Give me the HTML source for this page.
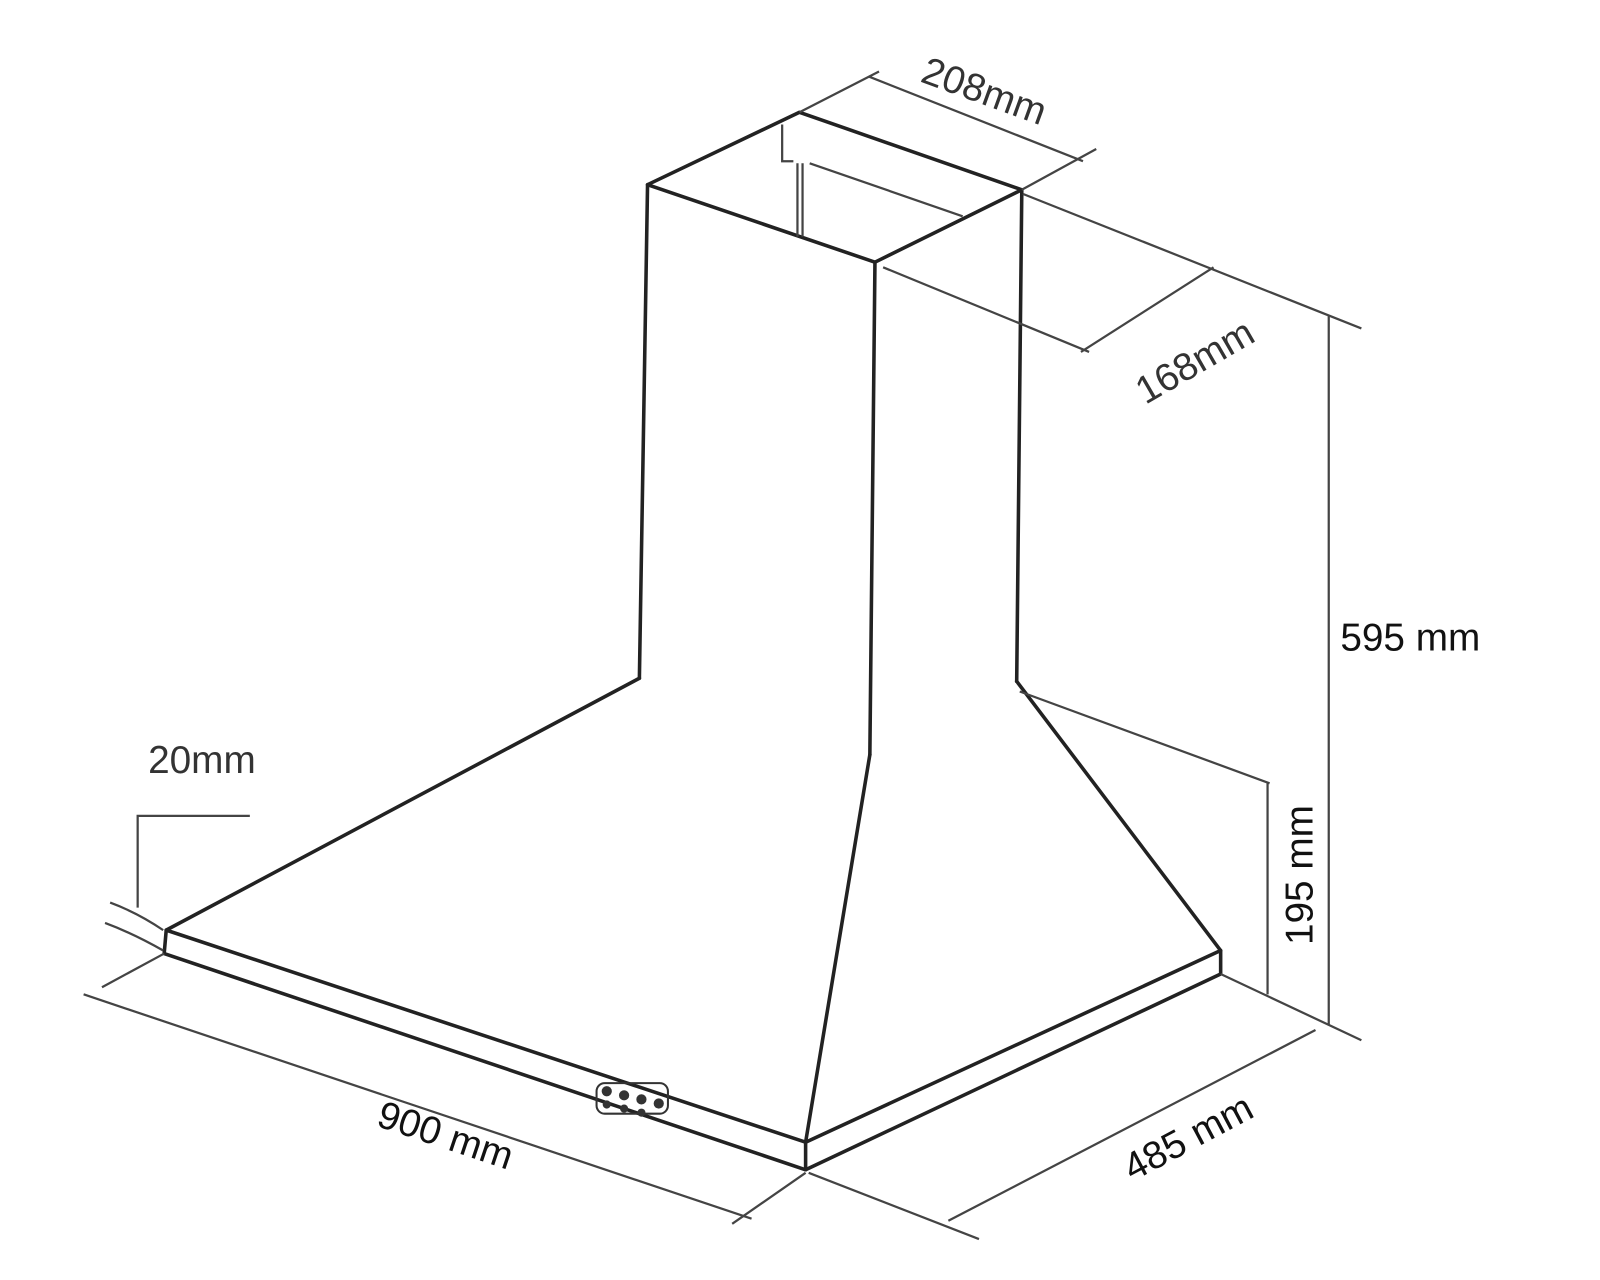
<!DOCTYPE html>
<html><head><style>html,body{margin:0;padding:0;background:#fff}svg{display:block}</style></head>
<body>
<svg width="1600" height="1280" viewBox="0 0 1569 1255" xmlns="http://www.w3.org/2000/svg">
<g fill="none" stroke="#222" stroke-width="3.5" stroke-linejoin="round" stroke-linecap="round">
<polygon points="635,181 784,110 1002,186 858,257"/>
<line x1="635" y1="181" x2="627" y2="665"/>
<line x1="858" y1="257" x2="853" y2="740"/>
<line x1="1002" y1="186" x2="997" y2="668"/>
<line x1="627" y1="665" x2="163" y2="912"/>
<line x1="853" y1="740" x2="790" y2="1120"/>
<line x1="997" y1="668" x2="1197" y2="932"/>
<polyline points="163,912 790,1120 1197,932 1197,955 790,1147 161,935 163,912"/>
<line x1="790" y1="1120" x2="790" y2="1147"/>
</g>
<g fill="none" stroke="#444" stroke-width="2.2">
<polyline points="767,122 767,158 778,158"/>
<line x1="794" y1="160" x2="944" y2="212"/>
<line x1="782" y1="160" x2="782" y2="232"/>
<line x1="787" y1="160" x2="787" y2="232"/>
<line x1="866" y1="262" x2="1068" y2="345"/>
<line x1="1003" y1="190" x2="1335" y2="322"/>
<line x1="1060" y1="345" x2="1190" y2="262"/>
<line x1="784" y1="110" x2="862" y2="70"/>
<line x1="1002" y1="186" x2="1075" y2="146"/>
<line x1="852" y1="75" x2="1062" y2="158"/>
<line x1="1303" y1="310" x2="1303" y2="1005"/>
<line x1="1197" y1="955" x2="1335" y2="1020"/>
<line x1="1243" y1="768" x2="1243" y2="975"/>
<line x1="1000" y1="678" x2="1245" y2="768"/>
<line x1="82" y1="975" x2="737" y2="1195"/>
<line x1="161" y1="935" x2="100" y2="968"/>
<line x1="790" y1="1150" x2="718" y2="1200"/>
<line x1="793" y1="1150" x2="960" y2="1215"/>
<line x1="930" y1="1197" x2="1290" y2="1010"/>
<polyline points="245,800 135,800 135,890"/>
<path d="M108,885 Q135,895 160,912"/>
<path d="M103,905 Q130,915 160,932"/>
</g>
<g fill="#333"><rect x="585" y="1062" width="70" height="30" rx="8" fill="none" stroke="#333" stroke-width="2"/>
<circle cx="595" cy="1070" r="5"/><circle cx="612" cy="1074" r="5"/><circle cx="629" cy="1078" r="5"/><circle cx="646" cy="1082" r="5"/>
<circle cx="595" cy="1083" r="4"/><circle cx="612" cy="1087" r="4"/><circle cx="629" cy="1091" r="4"/></g>
<g font-family="Liberation Sans, sans-serif" fill="#333" font-size="38">
<text x="965" y="102" text-anchor="middle" transform="rotate(20 965 90)">208mm</text>
<text x="1172" y="367" text-anchor="middle" transform="rotate(-30 1172 355)">168mm</text>
<text x="198" y="758" text-anchor="middle">20mm</text>
<text x="1383" y="638" text-anchor="middle" fill="#111">595 mm</text>
<text x="1287" y="858" text-anchor="middle" fill="#111" transform="rotate(-90 1287 858)">195 mm</text>
<text x="437" y="1126" text-anchor="middle" fill="#111" transform="rotate(18.5 437 1113)">900 mm</text>
<text x="1165" y="1128" text-anchor="middle" fill="#111" transform="rotate(-28 1165 1115)">485 mm</text>
</g>
</svg>
</body></html>
